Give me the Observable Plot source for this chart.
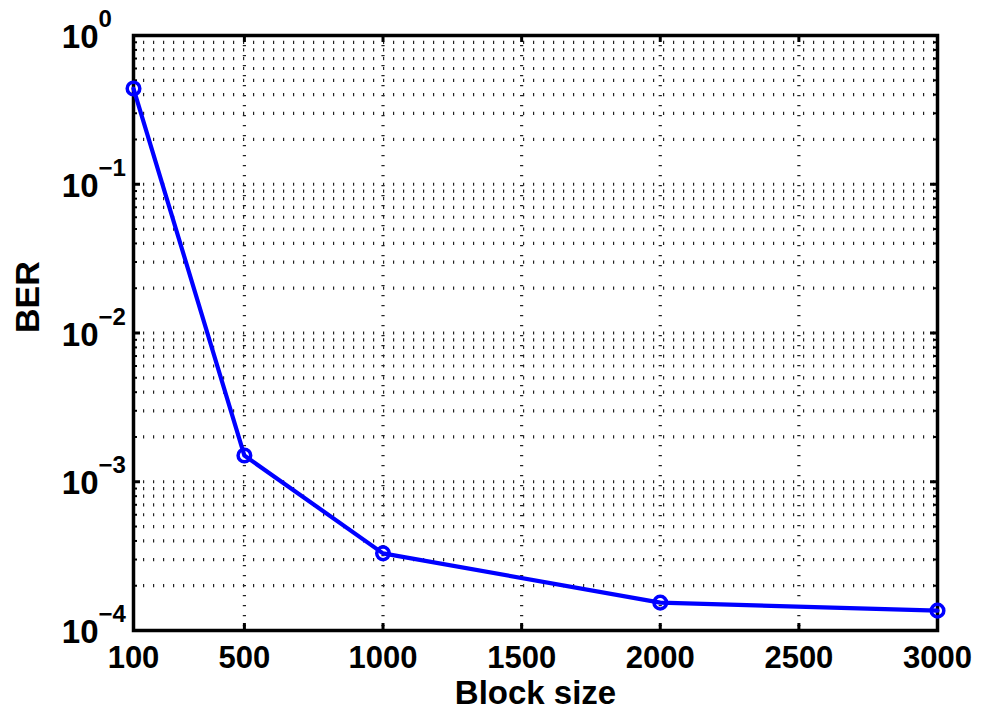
<!DOCTYPE html>
<html><head><meta charset="utf-8">
<script src="https://cdn.jsdelivr.net/npm/d3@7"></script>
<script src="https://cdn.jsdelivr.net/npm/@observablehq/plot@0.6"></script>
<style>body{margin:0;background:#fff}</style>
</head><body><div id="chart"></div>
<script>
const blockSize = [100, 500, 1000, 2000, 3000];
const ber = [0.44, 1.50e-3, 3.3e-4, 1.54e-4, 1.36e-4];
const xTicks = [100, 500, 1000, 1500, 2000, 2500, 3000];
const xTickLabels = ["100", "500", "1000", "1500", "2000", "2500", "3000"];
const yTicks = [1e-4, 1e-3, 1e-2, 1e-1, 1];
const yExponents = ["−4", "−3", "−2", "−1", "0"];
const yMantissas = [1, 2, 3, 4, 5, 6, 7, 8, 9];

const W = 982, H = 713;
const mL = 133, mR = 45, mT = 35, mB = 83;
const plotW = W - mL - mR, plotH = H - mT - mB;

const yMinor = [];
for (const d of yTicks.slice(0, -1)) for (const m of yMantissas) yMinor.push(m * d);
const yGrid = [...yMinor, 1];
const yMinorOnly = yMinor.filter((d, i) => i % 9 !== 0);

const data = blockSize.map((x, i) => ({x, y: ber[i]}));
const font = "'Liberation Sans', Arial, Helvetica, sans-serif";
const dash = {stroke: "#222", strokeWidth: 3.2, strokeDasharray: "1.2,8.8"};

const chart = Plot.plot({
  width: W, height: H,
  marginLeft: mL, marginRight: mR, marginTop: mT, marginBottom: mB,
  style: {fontFamily: font, background: "#fff", color: "#000"},
  x: {domain: [100, 3000], axis: null},
  y: {type: "log", domain: [1e-4, 1], axis: null},
  marks: [
    Plot.ruleY(yGrid, {y: d => d, ...dash}),
    Plot.ruleX(xTicks.slice(1, -1), {x: d => d, ...dash}),
    Plot.tickX(xTicks, {x: d => d, insetTop: plotH - 7, stroke: "#000", strokeWidth: 3}),
    Plot.tickX(xTicks, {x: d => d, insetBottom: plotH - 7, stroke: "#000", strokeWidth: 3}),
    Plot.tickY(yTicks, {y: d => d, insetRight: plotW - 7, stroke: "#000", strokeWidth: 3}),
    Plot.tickY(yTicks, {y: d => d, insetLeft: plotW - 7, stroke: "#000", strokeWidth: 3}),
    Plot.tickY(yMinorOnly, {y: d => d, insetRight: plotW - 4, stroke: "#000", strokeWidth: 2}),
    Plot.tickY(yMinorOnly, {y: d => d, insetLeft: plotW - 4, stroke: "#000", strokeWidth: 2}),
    Plot.frame({stroke: "#000", strokeWidth: 3.5}),
    Plot.line(data, {x: "x", y: "y", stroke: "#0000ff", strokeWidth: 4.2}),
    Plot.dot(data, {x: "x", y: "y", r: 6.3, stroke: "#0000ff", strokeWidth: 3.5, fill: "none"}),
    Plot.text(xTicks, {x: d => d, text: (d, i) => xTickLabels[i], frameAnchor: "bottom", lineAnchor: "top", dy: 15, fontSize: 31, fontWeight: "bold", fill: "#000"}),
    Plot.text(yTicks, {y: d => d, text: () => "10", frameAnchor: "left", textAnchor: "end", lineAnchor: "middle", dx: -35, dy: 2, fontSize: 33, fontWeight: "bold", fill: "#000"}),
    Plot.text(yTicks, {y: d => d, text: (d, i) => yExponents[i], frameAnchor: "left", textAnchor: "start", lineAnchor: "middle", dx: -35, dy: -16, fontSize: 24, fontWeight: "bold", fill: "#000"}),
    Plot.text(["Block size"], {text: d => d, frameAnchor: "bottom", lineAnchor: "top", dy: 50, fontSize: 33, fontWeight: "bold", fill: "#000"}),
    Plot.text(["BER"], {text: d => d, frameAnchor: "left", rotate: -90, dx: -105, fontSize: 34, fontWeight: "bold", fill: "#000"})
  ]
});
document.getElementById("chart").appendChild(chart);
</script>
</body></html>
